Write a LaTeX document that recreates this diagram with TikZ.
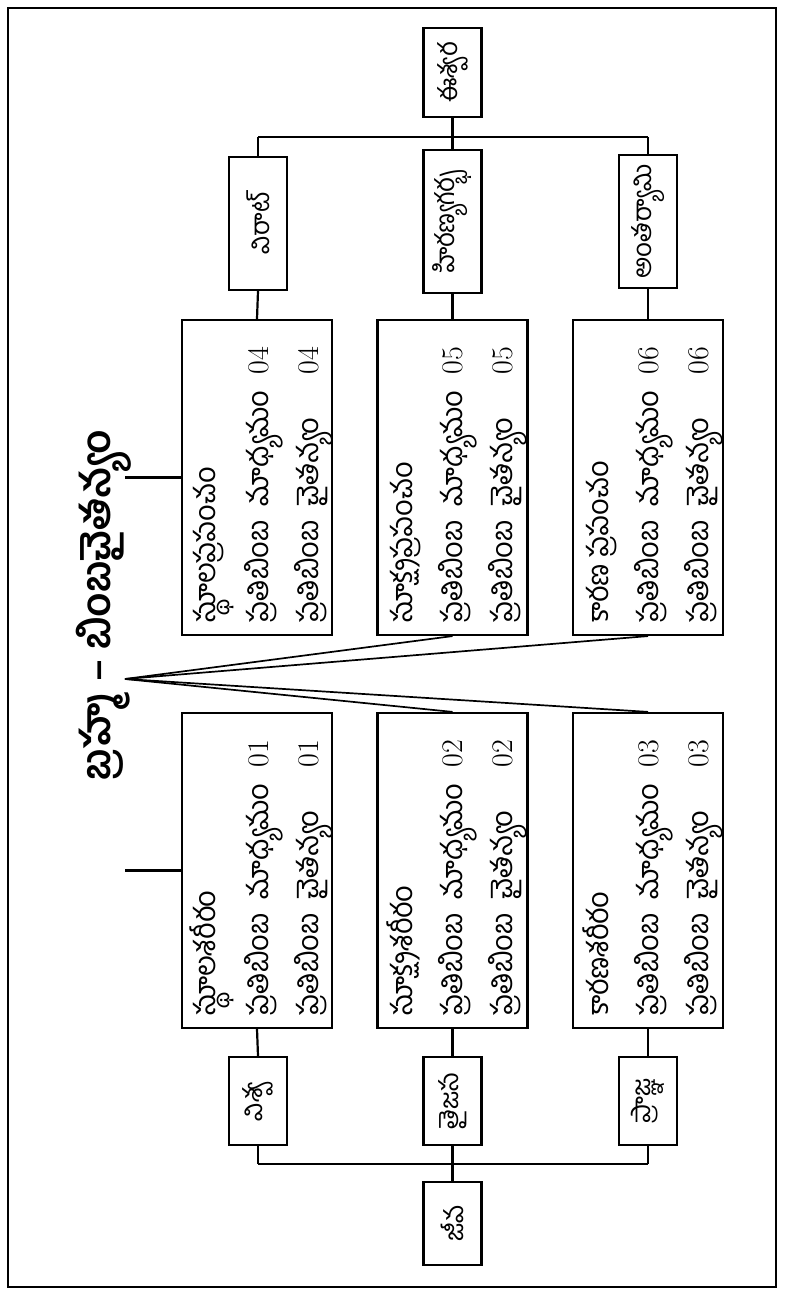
\documentclass[tikz,border=0pt]{standalone}
\usepackage{fontspec}
\newfontfamily\tel[Script=Telugu]{Hind Guntur}
\newcommand\dg[1]{{\rmfamily\fontsize{30}{50}\selectfont #1}}
\begin{document}
\begin{tikzpicture}[x=1pt,y=1pt,
  lw/.style={line width=2.2pt},
  box/.style={draw, lw, rotate=90, inner sep=0pt, minimum height=58pt, font=\tel\fontsize{26}{30}\selectfont},
  big/.style={draw, lw, rotate=90, inner sep=0pt, minimum height=150pt, minimum width=315pt},
  txt/.style={rotate=90, inner sep=0pt, anchor=west, font=\tel\fontsize{29}{50}\selectfont},
  lnk/.style={lw},
  fan/.style={line width=1.7pt}]
\useasboundingbox (0,0) rectangle (784,1295);
\draw[line width=1.8pt] (8,8) rectangle (776,1287);
% title
\node[rotate=90, font=\tel\bfseries\fontsize{40}{44}\selectfont] (title) at (104,690) {బ్రహ్మ – బింబచైతన్యం};
% Ishvara tree
\node[box, minimum width=89pt] (ishvara) at (452.5,1222.5) {ఈశ్వర};
\node[box, minimum width=133pt] (virat) at (258,1071.5) {విరాట్};
\node[box, minimum width=143pt] (hiranya) at (452.5,1073.5) {హిరణ్యగర్భ};
\node[box, minimum width=133pt] (antar) at (648,1073.5) {అంతర్యామి};
\coordinate (busT) at (0,1158);
% big boxes top row
\node[big] (D) at (257,817.5) {};
\node[big] (E) at (452.5,817.5) {};
\node[big] (F) at (648,817.5) {};
% big boxes bottom row
\node[big] (A) at (257,424.5) {};
\node[big] (B) at (452.5,424.5) {};
\node[big] (C) at (648,424.5) {};
% Jiva tree
\node[box, minimum width=88pt] (visva) at (258,194) {విశ్వ};
\node[box, minimum width=88pt] (taijasa) at (452.5,194) {తైజస};
\node[box, minimum width=88pt] (prajna) at (648,194) {ప్రాజ్ఞ};
\node[box, minimum width=83pt] (jiva) at (452.5,71.5) {జీవ};
\coordinate (busB) at (0,131);
\coordinate (apex) at (125,616);
\coordinate (left) at (125,0);
% texts
\newcommand\bxtext[2]{\begin{tabular}{@{}l@{\hspace{16pt}}l@{}}
\multicolumn{2}{@{}l@{}}{#1}\\
ప్రతిబింబ~~మాధ్యమం & \dg{#2}\\
ప్రతిబింబ~~చైతన్యం & \dg{#2}
\end{tabular}}
\node[txt] (tD) at ([yshift=13pt]D.west) {\bxtext{స్థూలప్రపంచం}{04}};
\node[txt] (tE) at ([yshift=13pt]E.west) {\bxtext{సూక్ష్మప్రపంచం}{05}};
\node[txt] (tF) at ([yshift=13pt]F.west) {\bxtext{కారణ ప్రపంచం}{06}};
\node[txt] (tA) at ([yshift=13pt]A.west) {\bxtext{స్థూలశరీరం}{01}};
\node[txt] (tB) at ([yshift=13pt]B.west) {\bxtext{సూక్ష్మశరీరం}{02}};
\node[txt] (tC) at ([yshift=13pt]C.west) {\bxtext{కారణశరీరం}{03}};
% connectors top
\draw[lnk] (ishvara.west) -- (ishvara.west |- busT);
\draw[lnk] (virat.east |- busT) -- (antar.east |- busT);
\draw[lnk] (virat.east) -- (virat.east |- busT);
\draw[lnk] (hiranya.east) -- (hiranya.east |- busT);
\draw[lnk] (antar.east) -- (antar.east |- busT);
\draw[lnk] (virat.west) -- (D.east);
\draw[lnk] (hiranya.west) -- (E.east);
\draw[lnk] (antar.west) -- (F.east);
% connectors bottom
\draw[lnk] (A.west) -- (visva.east);
\draw[lnk] (B.west) -- (taijasa.east);
\draw[lnk] (C.west) -- (prajna.east);
\draw[lnk] (visva.west |- busB) -- (prajna.west |- busB);
\draw[lnk] (visva.west) -- (visva.west |- busB);
\draw[lnk] (taijasa.west) -- (taijasa.west |- busB);
\draw[lnk] (prajna.west) -- (prajna.west |- busB);
\draw[lnk] (jiva.east) -- (jiva.east |- busB);
% title links
\draw[lnk] (left |- D.north) -- (D.north);
\draw[lnk] (left |- A.north) -- (A.north);
\draw[fan] (apex) -- (E.west);
\draw[fan] (apex) -- (F.west);
\draw[fan] (apex) -- (B.east);
\draw[fan] (apex) -- (C.east);
\end{tikzpicture}
\end{document}
